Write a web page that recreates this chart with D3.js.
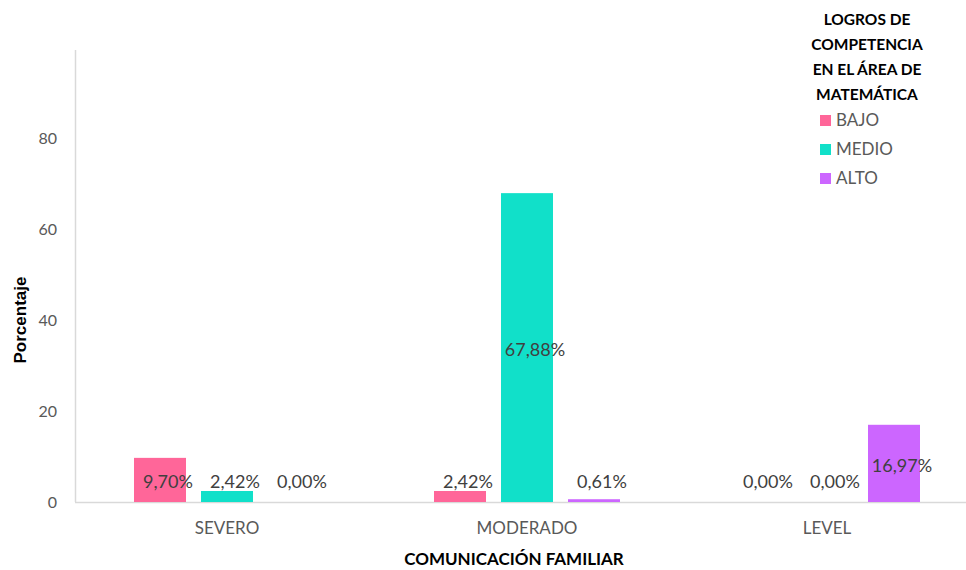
<!DOCTYPE html>
<html><head><meta charset="utf-8">
<script src="https://cdn.jsdelivr.net/npm/d3@7"></script>
<style>body{margin:0;background:#fff}svg{display:block;font-family:Lato,"Open Sans",sans-serif}</style>
</head><body><svg id="c" width="966" height="570"></svg>
<script>
const categories = ["SEVERO", "MODERADO", "LEVEL"];
const seriesNames = ["BAJO", "MEDIO", "ALTO"];
const bajo = [9.70, 2.42, 0.00];
const medio = [2.42, 67.88, 0.00];
const alto = [0.00, 0.61, 16.97];
const yTicks = [0, 20, 40, 60, 80];
const colors = ["#FF6699", "#11E0C9", "#CC66FF"];
const legendTitle = ["LOGROS DE", "COMPETENCIA", "EN EL ÁREA DE", "MATEMÁTICA"];
const xTitle = "COMUNICACIÓN FAMILIAR";
const yTitle = "Porcentaje";

const values = [bajo, medio, alto];
const svg = d3.select("#c");
const x0 = d3.scaleBand().domain(categories).range([77, 977]);
const x1 = d3.scaleBand().domain(seriesNames).range([-93, 93]).paddingInner(0.224);
const y = d3.scaleLinear().domain([0, 100]).range([502, 47]);
const color = d3.scaleOrdinal().domain(seriesNames).range(colors);

// axes lines
svg.append("line").attr("x1", 75.5).attr("x2", 75.5).attr("y1", 50).attr("y2", y(0)).attr("stroke", "#d9d9d9").attr("stroke-width", 1.5);
svg.append("line").attr("x1", 75).attr("x2", 966).attr("y1", y(0) + 0.5).attr("y2", y(0) + 0.5).attr("stroke", "#d9d9d9").attr("stroke-width", 1.5);

// y ticks
svg.append("g").selectAll("text").data(yTicks).join("text")
  .attr("x", 57).attr("y", d => y(d)).attr("dy", "0.35em").attr("text-anchor", "end")
  .attr("font-size", 16).attr("fill", "#595959").text(d => d);

// x category labels
svg.append("g").selectAll("text").data(categories).join("text")
  .attr("x", d => x0(d) + x0.bandwidth() / 2).attr("y", 528).attr("dy", "0.35em").attr("text-anchor", "middle")
  .attr("font-size", 17).attr("fill", "#595959").text(d => d);

const data = [];
categories.forEach((c, i) => seriesNames.forEach((s, j) => data.push({c, s, v: values[j][i]})));

const g = svg.append("g");
g.selectAll("rect").data(data).join("rect")
  .attr("x", d => x0(d.c) + x0.bandwidth() / 2 + x1(d.s))
  .attr("width", x1.bandwidth())
  .attr("y", d => y(d.v))
  .attr("height", d => y(0) - y(d.v))
  .attr("fill", d => color(d.s));

const fmt = v => v.toFixed(2).replace(".", ",") + "%";
g.selectAll("text").data(data).join("text")
  .attr("x", d => x0(d.c) + x0.bandwidth() / 2 + x1(d.s) + x1.bandwidth() / 2 + 8)
  .attr("y", d => Math.min(y(d.v / 2) + 2, y(0) - 20))
  .attr("dy", "0.35em").attr("text-anchor", "middle")
  .attr("font-size", 18).attr("fill", "#404040").text(d => fmt(d.v));

// axis titles
svg.append("text").attr("x", 514).attr("y", 559).attr("dy", "0.35em").attr("text-anchor", "middle")
  .attr("font-size", 17).attr("font-weight", "bold").attr("fill", "#000").text(xTitle);
svg.append("text").attr("transform", "translate(20,320) rotate(-90)").attr("dy", "0.35em").attr("text-anchor", "middle")
  .attr("font-family", "'Liberation Sans', Arial, sans-serif")
  .attr("font-size", 17).attr("font-weight", "bold").attr("fill", "#000").text(yTitle);

// legend
svg.append("g").selectAll("text").data(legendTitle).join("text")
  .attr("x", 867).attr("y", (d, i) => 20 + i * 25).attr("dy", "0.35em").attr("text-anchor", "middle")
  .attr("font-size", 15.5).attr("font-weight", "bold").attr("fill", "#000").text(d => d);
const lg = svg.append("g").selectAll("g").data(seriesNames).join("g")
  .attr("transform", (d, i) => `translate(820,${120 + i * 29})`);
lg.append("rect").attr("x", 0).attr("y", -5).attr("width", 11).attr("height", 11).attr("fill", d => color(d));
lg.append("text").attr("x", 16).attr("y", 0).attr("dy", "0.35em").attr("font-size", 17).attr("fill", "#595959").text(d => d);
</script></body></html>
